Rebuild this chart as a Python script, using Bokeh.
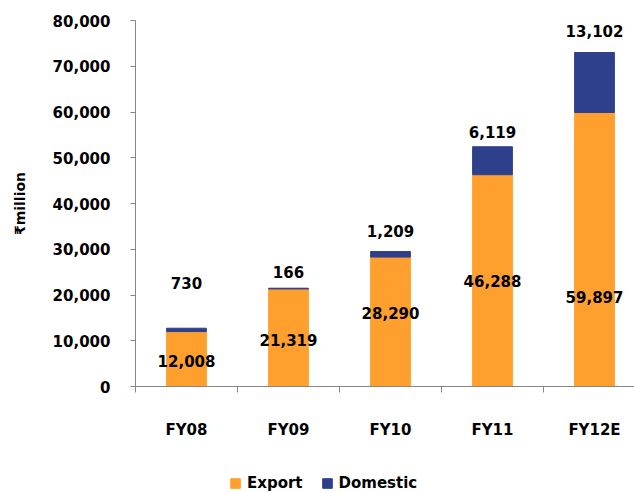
from bokeh.plotting import figure
from bokeh.layouts import column
from bokeh.models import (Range1d, FixedTicker, NumeralTickFormatter, Legend, LegendItem,
                          ColumnDataSource)
from bokeh.embed import file_html
from bokeh.resources import INLINE
from bokeh.core.properties import value

categories = ["FY08", "FY09", "FY10", "FY11", "FY12E"]
export = [12008, 21319, 28290, 46288, 59897]
domestic = [730, 166, 1209, 6119, 13102]
export_labels = ["12,008", "21,319", "28,290", "46,288", "59,897"]
domestic_labels = ["730", "166", "1,209", "6,119", "13,102"]
series_names = ["Export", "Domestic"]
# label anchor heights in data units (as placed in the original chart)
export_label_y = [5600, 10200, 16100, 23100, 19500]
domestic_label_y = [22600, 25100, 33900, 55700, 77600]

FONT = "DejaVu Sans"
FS = "15px"
ORANGE = "#FFA02E"
NAVY = "#2E3F8C"
GREY = "#868686"

xs = [i + 0.5 for i in range(len(categories))]
totals = [e + d for e, d in zip(export, domestic)]

src = ColumnDataSource(dict(x=xs, export=export, domestic=domestic, total=totals,
                            el=export_labels, dl=domestic_labels,
                            ey=export_label_y, dy=domestic_label_y))

W = 634
H_MAIN, H_LEG = 466, 27
left, top = 135, 20
bottom = H_MAIN - 386
frame_w = W - left
p = figure(width=W, height=H_MAIN, output_backend="svg", toolbar_location=None,
           x_range=Range1d(0, frame_w / 102.0), y_range=Range1d(0, 80000),
           min_border_left=left, min_border_right=0, min_border_top=top,
           min_border_bottom=bottom)
p.outline_line_color = None
p.xgrid.visible = False
p.ygrid.visible = False

r1 = p.vbar(x="x", bottom=0, top="export", width=0.39, color=ORANGE, source=src)
r2 = p.vbar(x="x", bottom="export", top="total", width=0.39, color=NAVY, source=src)

for ycol, tcol in (("ey", "el"), ("dy", "dl")):
    p.text(x="x", y=ycol, text=tcol, source=src, text_font=value(FONT),
           text_font_style="bold", text_font_size=FS, text_align="center",
           text_baseline="middle", text_color="black")

# y axis
ya = p.yaxis[0]
ya.ticker = FixedTicker(ticks=list(range(0, 80001, 10000)))
ya.formatter = NumeralTickFormatter(format="0,0")
ya.axis_line_color = GREY
ya.major_tick_line_color = GREY
ya.major_tick_out = 5
ya.major_tick_in = 0
ya.minor_tick_line_color = None
ya.major_label_standoff = 20
ya.major_label_text_font = FONT
ya.major_label_text_font_style = "bold"
ya.major_label_text_font_size = FS
ya.major_label_text_color = "black"
ya.axis_label = "₹million"
ya.axis_label_text_font = FONT
ya.axis_label_text_font_style = "bold"
ya.axis_label_text_font_size = "14px"
ya.axis_label_text_color = "black"
ya.axis_label_standoff = 22

# x axis
xa = p.xaxis[0]
xa.ticker = FixedTicker(ticks=xs, minor_ticks=list(range(len(categories) + 1)))
xa.major_label_overrides = {x: c for x, c in zip(xs, categories)}
xa.axis_line_color = GREY
xa.major_tick_line_color = None
xa.major_tick_out = 0
xa.major_tick_in = 0
xa.minor_tick_line_color = GREY
xa.minor_tick_out = 6
xa.minor_tick_in = 0
xa.major_label_standoff = 28
xa.major_label_text_font = FONT
xa.major_label_text_font_style = "bold"
xa.major_label_text_font_size = FS
xa.major_label_text_color = "black"

# legend strip below the chart (its renderers use the same data, out of view)
pl = figure(width=W, height=H_LEG, output_backend="svg", toolbar_location=None,
            x_range=Range1d(-20, -19), y_range=Range1d(-20, -19), min_border=0)
pl.axis.visible = False
pl.grid.visible = False
pl.outline_line_color = None
d1 = pl.vbar(x="x", bottom=0, top="export", width=0.39, color=ORANGE, source=src)
d2 = pl.vbar(x="x", bottom="export", top="total", width=0.39, color=NAVY, source=src)
legend = Legend(items=[LegendItem(label=series_names[0], renderers=[d1]),
                       LegendItem(label=series_names[1], renderers=[d2])],
                orientation="horizontal", location=(94, 1),
                label_text_font=FONT, label_text_font_style="bold",
                label_text_font_size=FS, label_text_color="black",
                glyph_width=12, glyph_height=12,
                spacing=18, label_standoff=6, padding=0, margin=0,
                border_line_color=None, background_fill_alpha=0)
pl.add_layout(legend)

layout = column(p, pl, spacing=0)
open("out.html", "w").write(file_html(layout, INLINE))
